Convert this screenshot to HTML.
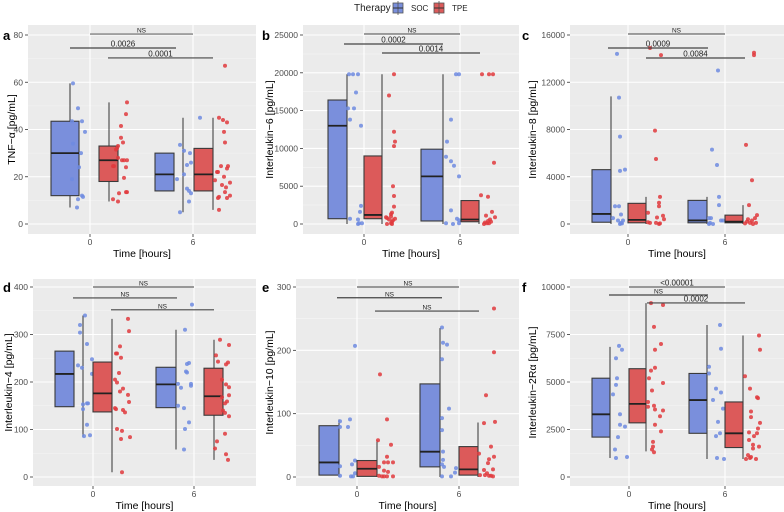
<!DOCTYPE html>
<html><head><meta charset="utf-8">
<style>
html,body{margin:0;padding:0;background:#fff;}
svg{display:block;font-family:"Liberation Sans",sans-serif;}
</style></head>
<body>
<svg id="chart" width="784" height="512" viewBox="0 0 784 512" xmlns="http://www.w3.org/2000/svg">
<g>
<text x="354" y="11" font-size="10" fill="#222">Therapy</text>
<g>
<rect x="393" y="3" width="10" height="10" fill="#7a8fdc" stroke="#555" stroke-width="0.8"/>
<line x1="398" y1="1" x2="398" y2="15" stroke="#555" stroke-width="0.8"/><line x1="393" y1="8" x2="403" y2="8" stroke="#333" stroke-width="1"/>
<text x="411" y="11" font-size="8" fill="#222">SOC</text></g>
<g>
<rect x="434" y="3" width="10" height="10" fill="#dc5a5a" stroke="#555" stroke-width="0.8"/>
<line x1="439" y1="1" x2="439" y2="15" stroke="#555" stroke-width="0.8"/><line x1="434" y1="8" x2="444" y2="8" stroke="#333" stroke-width="1"/>
<text x="452" y="11" font-size="8" fill="#222">TPE</text></g>
</g>
</svg>
<script>
// ---- data ----
const categories = [0, 6];
const groups = ["SOC", "TPE"];
const panelLetters = ["a","b","c","d","e","f"];
const panelTitles = ["TNF\u2212\u03b1 [pg/mL]","Interleukin\u22126 [pg/mL]","Interleukin\u22128 [pg/mL]","Interleukin\u22124 [pg/mL]","Interleukin\u221210 [pg/mL]","Interleukin\u22122R\u03b1 [pg/mL]"];
const yTicksA = [0,20,40,60,80];
const yTicksB = [0,5000,10000,15000,20000,25000];
const yTicksC = [0,4000,8000,12000,16000];
const yTicksD = [0,100,200,300,400];
const yTicksE = [0,100,200,300];
const yTicksF = [0,2500,5000,7500,10000];
// box stats [whiskerLow, q1, median, q3, whiskerHigh] order: SOC0, TPE0, SOC6, TPE6
const statsA = [[7,12,30,43.5,59.5],[9.5,18,27,33,51.5],[5,14,21,30,45],[6,14,21,32,45]];
const statsB = [[0,700,13000,16400,19800],[0,700,1200,9000,19800],[0,400,6300,9900,19800],[0,300,600,3100,3100]];
const statsC = [[0,150,850,4600,10800],[0,100,350,1750,2300],[0,100,300,2000,2300],[0,100,200,750,1600]];
const statsD = [[85,148,217,265,340],[10,137,176,242,333],[58,146,195,231,310],[36,130,170,229,289]];
const statsE = [[0,3,23,81,91],[0,1,13,26,58],[0,16,40,147,235],[0,3,12,48,86]];
const statsF = [[1000,2100,3300,5200,6850],[1350,2850,3850,5700,9150],[950,2300,4050,5450,8000],[950,1550,2300,3950,7450]];
// significance: [label, y value]
const sigA = [["NS",80.4],["0.0026",74.5],["0.0001",70.3]];
const sigB = [["NS",25130],["0.0002",23810],["0.0014",22620]];
const sigC = [["NS",16085],["0.0009",14900],["0.0084",14050]];
const sigD = [["NS",400],["NS",377],["NS",352]];
const sigE = [["NS",300],["NS",283],["NS",262]];
const sigF = [["<0.00001",10000],["NS",9580],["0.0002",9160]];
// observed values per group (SOC0, TPE0, SOC6, TPE6)
const valsA = [[59.5,49,43.5,43.5,39,34,30,24,19,12,11.5,10.5,7],[51.5,46.5,41.5,36.5,34.5,33,32,31.5,27,27,27,28,24.5,24.5,24,19.5,13,13.5,13.5,10.5,9.5],[33.5,31,30,26,25,21,19,15,14,13,9.5,5,45],[45,44,43,39,34.5,24.5,24.5,23.5,22,22,20,18.5,17.5,16.5,15.5,13.5,11.5,11,11,12,6,67]];
const valsB = [[19800,19800,19800,17400,15300,15300,13800,13000,2400,1600,700,600,100,100,0],[19800,17000,12200,10900,10300,5000,3700,2300,1500,1300,1000,800,700,600,500,300,100,0,0,900],[19800,19800,13800,10900,8900,8300,7700,6300,1800,700,500,100,0,100],[19800,19800,19800,8100,3800,3600,1600,1100,900,600,400,300,200,100,100,0]];
const valsC = [[14400,10700,7400,4500,4600,1500,1500,800,500,300,300,100,0,50],[14900,14300,7900,5500,2300,1800,1500,950,700,550,400,150,100,100,50,0],[13000,6300,5000,2300,1600,500,500,300,300,100,0,0],[14500,14300,6700,3700,1600,750,500,400,300,200,100,100,50,0]];
const valsD = [[340,320,304,280,248,235,230,217,155,155,153,143,110,86,88],[333,307,275,260,260,251,219,205,199,186,180,173,158,145,143,141,136,101,97,80,84,10],[363,310,240,238,222,220,196,192,196,188,150,145,115,101,58],[289,278,256,243,241,237,205,195,189,168,172,159,155,140,135,128,91,75,60,48,36]];
const valsE = [[207,91,88,79,79,26,20,17,6,2,1,1],[162,91,58,51,32,23,23,23,16,10,8,2,1,1,1,1],[236,212,209,186,108,93,74,40,27,20,16,14,7,1,1],[266,197,129,87,85,48,37,32,28,22,12,11,6,3,3,2,1,2]];
const valsF = [[6900,6700,6250,5200,4850,4350,3300,2750,2650,2100,1450,1000,1050],[9150,9050,7900,7000,6700,5750,5600,5200,4950,4550,3950,3750,3700,3550,3500,3200,2750,2400,1850,1600,1450,1300],[8000,6750,5800,5450,4650,4450,4050,3600,2900,2300,2150,1000,950],[7450,6700,5300,4650,4200,4150,3450,3150,2850,2550,2350,2300,2150,1950,1700,1600,1500,1150,1000,1050,950,950]];

// ---- layout (pixels; not data) ----
const jitA = [[-17,-12,-18,-8,-5,-17,-9,-11,-18,-8,-7,-12,-13],[37,36,31,31,33,28,27,26,34,32,37,28,24,23,36,34,29,36,37,23,28],[-13,-9,-3,-2,-6,-9,-16,-6,-4,-2,-4,-13,7],[26,30,34,31,32,28,35,34,25,24,31,22,37,29,33,32,26,25,34,37,26,32]];
const jitB = [[-15,-11,-6,-8,-16,-10,-14,-3,-3,-4,-14,-6,-5,-2,-6],[30,25,30,31,30,29,30,30,28,27,27,23,31,25,29,28,27,23,28,22],[-4,-1,-9,-13,-14,-9,-6,-1,-9,-3,-1,-14,-7,-1],[22,29,33,34,21,28,32,26,35,30,28,31,25,27,29,24]];
const jitC = [[-11,-9,-8,-8,-3,-13,-9,-7,-15,-10,-5,-7,-8,-6],[22,33,27,28,32,31,31,20,35,29,36,20,22,28,32,31],[-7,-13,-8,-6,-6,-16,-14,-4,-2,-15,-12,-16],[29,29,21,27,24,32,30,23,27,22,25,31,20,28]];
const jitD = [[-8,-13,-13,-6,-1,-15,-11,-1,-6,-5,-10,-10,-6,-9,-3],[35,36,27,23,24,28,26,22,24,30,27,35,36,22,23,30,32,24,29,28,37,29],[-2,-9,-5,-7,-8,-7,-3,-3,-16,-13,-16,-10,-5,-9,-10],[26,35,22,24,34,32,28,32,35,28,35,33,31,29,31,35,31,23,21,32,34]];
const jitE = [[-2,-7,-17,-17,-9,-2,-5,-17,-2,-17,-6,-4],[23,30,21,34,30,27,31,36,22,27,31,22,25,27,30,36],[-17,-16,-12,-17,-10,-17,-17,-16,-16,-17,-15,-3,-4,-17,-8],[35,35,27,36,25,32,20,35,30,29,34,25,28,21,26,32,34,30]];
const jitF = [[-10,-7,-13,-12,-13,-16,-9,-9,-4,-11,-14,-13,-2],[22,34,25,32,26,26,22,20,34,23,19,25,19,26,34,31,26,32,24,24,23,25],[-5,-4,-16,-16,-9,-4,-12,-2,-7,-5,-9,-8,-1],[34,35,20,25,32,33,26,26,35,33,24,32,29,24,28,34,28,23,25,26,21,31]];
// box geometry [leftOffset, width, whiskerOffset] relative to category centre
const geoA = [[-39,28,-20],[9,19,19],[-38,19,-10],[1,19,20]];
const geoB = [[-36,19,-17],[0,18,18],[-39,22,-17],[1,18,19]];
const geoC = [[-36,19,-17],[0,18,18],[-37,19,-18],[0,18,18]];
const geoD = [[-38,19,-10],[0,19,19],[-38,20,-18],[10,19,20]];
const geoE = [[-38,20,-18],[0,20,20],[-39,20,-19],[0,19,19]];
const geoF = [[-37,18,-19],[0,17,17],[-36,18,-18],[0,18,18]];

const panels = [
 {L:28,R:256,T:25,B:234,y0:224,yTop:35,x0:90,x6:193,ticks:yTicksA,stats:statsA,sig:sigA,vals:valsA,jit:jitA,geo:geoA,lx:3,tx:12},
 {L:303,R:519,T:25,B:234,y0:224,yTop:35,x0:364,x6:460,ticks:yTicksB,stats:statsB,sig:sigB,vals:valsB,jit:jitB,geo:geoB,lx:262,tx:270},
 {L:570,R:784,T:25,B:234,y0:224,yTop:35,x0:628,x6:725,ticks:yTicksC,stats:statsC,sig:sigC,vals:valsC,jit:jitC,geo:geoC,lx:522,tx:533},
 {L:33,R:256,T:279,B:486,y0:477,yTop:287,x0:93,x6:194,ticks:yTicksD,stats:statsD,sig:sigD,vals:valsD,jit:jitD,geo:geoD,lx:3,tx:9},
 {L:296,R:519,T:279,B:486,y0:477,yTop:287,x0:357,x6:459,ticks:yTicksE,stats:statsE,sig:sigE,vals:valsE,jit:jitE,geo:geoE,lx:262,tx:270},
 {L:570,R:784,T:279,B:486,y0:477,yTop:287,x0:629,x6:725,ticks:yTicksF,stats:statsF,sig:sigF,vals:valsF,jit:jitF,geo:geoF,lx:522,tx:533}
];
const fills = ["#7a8fdc","#dc5a5a"];
const dots = ["#6f8be0","#e0393d"];

const svg = document.getElementById('chart');
const NS = "http://www.w3.org/2000/svg";
function mk(tag, attrs, parent){const e=document.createElementNS(NS,tag);for(const k in attrs)e.setAttribute(k,attrs[k]);(parent||svg).appendChild(e);return e;}

panels.forEach((p,pi)=>{
  const tmax = p.ticks[p.ticks.length-1];
  const y = v => p.y0 - (v/tmax)*(p.y0-p.yTop);
  const x = c => p.x0 + (c/6)*(p.x6-p.x0);
  const g = mk('g',{});
  
  
  const bg = mk('rect',{x:p.L,y:p.T,width:p.R-p.L,height:p.B-p.T,fill:'#ebebeb'},g);
  
  
  // minor grid
  for(let i=0;i<p.ticks.length-1;i++){
    const mv=(p.ticks[i]+p.ticks[i+1])/2;
    mk('line',{x1:p.L,x2:p.R,y1:y(mv),y2:y(mv),stroke:'#f5f5f5','stroke-width':0.6},g);
  }
  const up=p.ticks[p.ticks.length-1]+(p.ticks[1]-p.ticks[0])/2;
  if(y(up)>p.T) mk('line',{x1:p.L,x2:p.R,y1:y(up),y2:y(up),stroke:'#f5f5f5','stroke-width':0.6},g);
  p.ticks.forEach(t=>{
    mk('line',{x1:p.L,x2:p.R,y1:y(t),y2:y(t),stroke:'#fff','stroke-width':1.1},g);
    mk('line',{x1:p.L-3,x2:p.L,y1:y(t),y2:y(t),stroke:'#333','stroke-width':0.8},g);
    const tl=mk('text',{x:p.L-5,y:y(t)+3,'font-size':8.5,fill:'#4d4d4d','text-anchor':'end'},g);
    tl.textContent=t;
    
    
  });
  categories.forEach(c=>{
    mk('line',{x1:x(c),x2:x(c),y1:p.T,y2:p.B,stroke:'#fff','stroke-width':1.1},g);
    mk('line',{x1:x(c),x2:x(c),y1:p.B,y2:p.B+3,stroke:'#333','stroke-width':0.8},g);
    const xl=mk('text',{x:x(c),y:p.B+11,'font-size':8.5,fill:'#4d4d4d','text-anchor':'middle'},g);
    xl.textContent=c;
    
    
  });
  // boxes
  p.stats.forEach((s,bi)=>{
    const c=categories[Math.floor(bi/2)], gi=bi%2, gm=p.geo[bi];
    const cx=x(c);
    const bx=cx+gm[0], wx=cx+gm[2];
    const bg2=mk('g',{},g);
    
    
    mk('line',{x1:wx,x2:wx,y1:y(s[0]),y2:y(s[4]),stroke:'#333','stroke-width':1},bg2);
    mk('rect',{x:bx,y:y(s[3]),width:gm[1],height:y(s[1])-y(s[3]),fill:fills[gi],stroke:'#3a3a3a','stroke-width':1.1},bg2);
    mk('line',{x1:bx,x2:bx+gm[1],y1:y(s[2]),y2:y(s[2]),stroke:'#222','stroke-width':1.8},bg2);
    // points
    p.vals[bi].forEach((v,k)=>{
      const pt=mk('circle',{cx:cx+p.jit[bi][k],cy:y(v),r:2,fill:dots[gi],'fill-opacity':0.85},g);
      
      
    });
  });
  // significance bars
  const spans=[[x(0),x(6)],[x(0)-20,x(6)-17],[x(0)+18,x(6)+20]];
  p.sig.forEach((s,si)=>{
    const sy=y(s[1]);
    const sg=mk('g',{},g);
    
    
    mk('line',{x1:spans[si][0],x2:spans[si][1],y1:sy,y2:sy,stroke:si===0?'#666':'#444','stroke-width':1.2},sg);
    const st=mk('text',{x:(spans[si][0]+spans[si][1])/2,y:sy-1.5,'font-size':s[0]==="NS"?6.5:8,fill:'#222','text-anchor':'middle'},sg);
    st.textContent=s[0];
  });
  const lt=mk('text',{x:p.lx,y:p.yTop+5,'font-size':13,'font-weight':'bold',fill:'#000'},g);
  lt.textContent=panelLetters[pi];
  
  
  const cy=(p.T+p.B)/2;
  const yt=mk('text',{x:p.tx,y:cy,'font-size':10.5,fill:'#000','text-anchor':'middle',transform:'rotate(-90 '+p.tx+' '+cy+')','dominant-baseline':'central'},g);
  yt.textContent=panelTitles[pi];
  
  
  const xt=mk('text',{x:(p.L+p.R)/2,y:p.B+23,'font-size':10.5,fill:'#000','text-anchor':'middle'},g);
  xt.textContent='Time [hours]';
  
  
});
</script>
</body></html>
